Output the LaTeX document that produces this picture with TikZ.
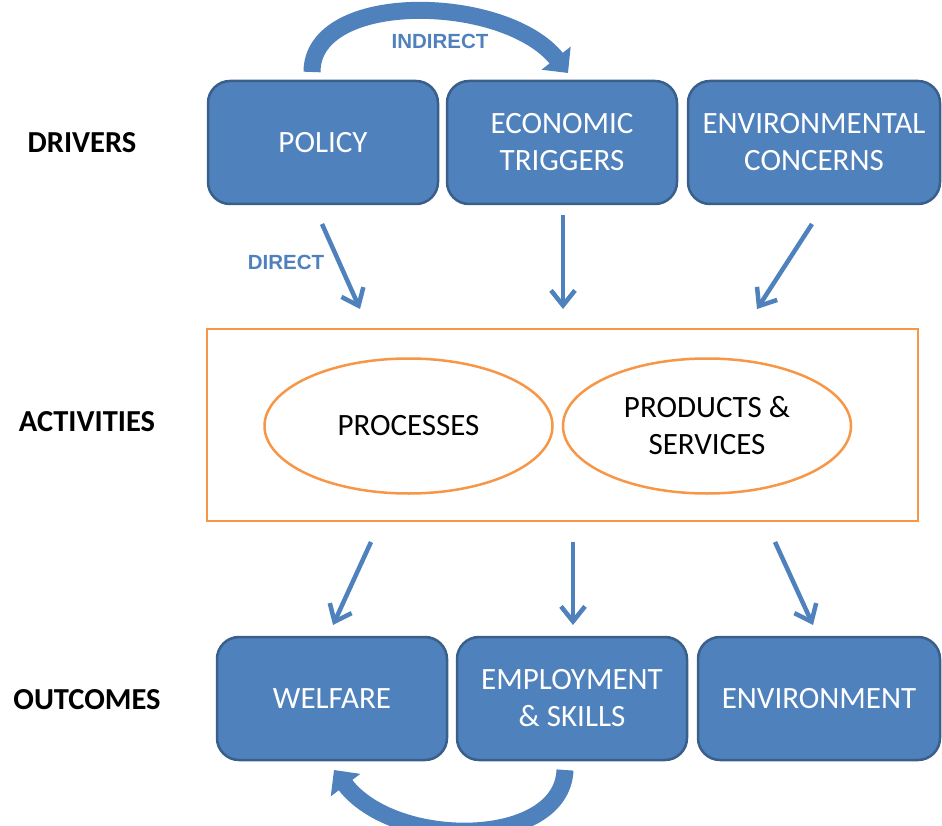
\documentclass[tikz,border=0pt]{standalone}
\usepackage{fontspec}
\setmainfont{Carlito}
\newfontfamily\arialb{Liberation Sans}
\usetikzlibrary{arrows.meta,shapes.geometric}
\definecolor{boxblue}{HTML}{4F81BD}
\definecolor{boxedge}{HTML}{3A5F8B}
\definecolor{orng}{HTML}{F79646}
\begin{document}
\begin{tikzpicture}[x=1pt,y=-1pt,
  bluebox/.style={draw=boxedge,line width=2.5pt,fill=boxblue,rounded corners=22pt,
    minimum width=230pt,minimum height=123pt,inner sep=0pt,text=white,align=center,
    font=\fontsize{31}{37}\selectfont},
  rowlabel/.style={font=\fontsize{30.5}{36}\selectfont\bfseries,text=black},
  flowlabel/.style={font=\arialb\fontsize{20.5}{24}\selectfont\bfseries,text=boxblue},
  oval/.style={ellipse,draw=orng,line width=2.5pt,minimum width=288pt,minimum height=135pt,
    inner sep=0pt,align=center,font=\fontsize{31}{37}\selectfont},
  flow/.style={draw=boxblue,line width=4.5pt,-{Straight Barb[length=15pt,width=24pt]}},
  bigflow/.style={draw=boxblue,line width=17pt,-{Triangle[length=19pt,width=36pt]}}]
\useasboundingbox (0,0) rectangle (942,826);
% drivers
\node[bluebox] (policy) at (323,142.5) {POLICY};
\node[bluebox] (econ) at (562,142.5) {ECONOMIC\\TRIGGERS};
\node[bluebox,minimum width=252pt] (envc) at (814,142.5) {ENVIRONMENTAL\\CONCERNS};
% outcomes
\node[bluebox] (welfare) at (332,698.5) {WELFARE};
\node[bluebox] (employ) at (572,698.5) {EMPLOYMENT\\\& SKILLS};
\node[bluebox,minimum width=242pt] (envo) at (819,698.5) {ENVIRONMENT};
% activities
\node[draw=orng,line width=2.5pt,minimum width=711pt,minimum height=192pt,inner sep=0pt] (act) at (562.5,425) {};
\node[oval] (proc) at (408.5,426) {PROCESSES};
\node[oval] (prod) at (707,426) {PRODUCTS \&\\SERVICES};
% row labels
\node[rowlabel] (ldrivers) at (82,143) {DRIVERS};
\node[rowlabel] (lact) at (87,422) {ACTIVITIES};
\node[rowlabel] (lout) at (87,700) {OUTCOMES};
\node[flowlabel] (lind) at (440,41) {INDIRECT};
\node[flowlabel] (ldir) at (286,262) {DIRECT};
% arrow ends
\coordinate (a1s) at (322,224); \coordinate (a1e) at (360,309);
\coordinate (a2s) at (563,215); \coordinate (a2e) at (563,309);
\coordinate (a3s) at (812,224); \coordinate (a3e) at (757,309);
\coordinate (b1s) at (371,542); \coordinate (b1e) at (333,625);
\coordinate (b2s) at (573,542); \coordinate (b2e) at (573,625);
\coordinate (b3s) at (775,542); \coordinate (b3e) at (813,625);
\draw[flow] (a1s) -- (a1e);
\draw[flow] (a2s) -- (a2e);
\draw[flow] (a3s) -- (a3e);
\draw[flow] (b1s) -- (b1e);
\draw[flow] (b2s) -- (b2e);
\draw[flow] (b3s) -- (b3e);
% curved arrows
\coordinate (c1s) at (312,72); \coordinate (c1e) at (568,73);
\draw[bigflow] (c1s) .. controls (312,-10) and (505,-6) .. (c1e);
\coordinate (c2s) at (565,770); \coordinate (c2e) at (334,770);
\draw[bigflow] (c2s) .. controls (562,848) and (395,850) .. (c2e);
\end{tikzpicture}
\end{document}
